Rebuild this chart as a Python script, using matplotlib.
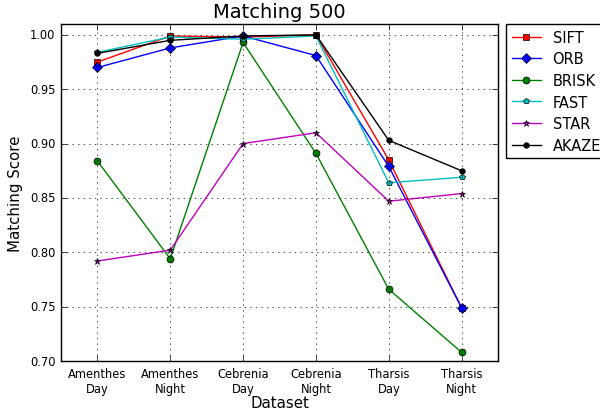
import matplotlib
matplotlib.use("Agg")
import matplotlib.pyplot as plt
from matplotlib.ticker import FormatStrFormatter

plt.style.use("classic")

datasets = ["Amenthes\nDay", "Amenthes\nNight", "Cebrenia\nDay", "Cebrenia\nNight", "Tharsis\nDay", "Tharsis\nNight"]

sift = [0.975, 0.999, 0.998, 1.000, 0.885, 0.749]
orb = [0.970, 0.988, 0.999, 0.981, 0.879, 0.749]
brisk = [0.884, 0.794, 0.993, 0.891, 0.766, 0.708]
fast = [0.984, 0.998, 0.996, 0.999, 0.864, 0.869]
star = [0.792, 0.802, 0.900, 0.910, 0.847, 0.854]
akaze = [0.983, 0.995, 0.999, 1.000, 0.903, 0.875]

fig = plt.figure(figsize=(6, 4.1), dpi=100)
ax = fig.add_axes([0.1017, 0.117, 0.7283, 0.822])

x = list(range(len(datasets)))
ax.plot(x, sift, "rs-", label="SIFT", markersize=5)
ax.plot(x, orb, "bD-", label="ORB", markersize=5)
ax.plot(x, brisk, "go-", label="BRISK", markersize=5)
ax.plot(x, fast, "cp-", label="FAST", markersize=4)
ax.plot(x, star, "m*-", label="STAR", markersize=4.5)
ax.plot(x, akaze, "ko-", label="AKAZE", markersize=4)

ax.set_xlim(-0.5, 5.5)
ax.set_ylim(0.70, 1.01)
ax.set_xticks(x)
ax.set_xticklabels(datasets, fontsize=8.3)
ax.yaxis.set_major_formatter(FormatStrFormatter("%.2f"))
ax.tick_params(axis="y", labelsize=8.3)
ax.grid(True)

ax.set_title("Matching 500", fontsize=14)
ax.set_xlabel("Dataset", fontsize=10.8, labelpad=0)
ax.set_ylabel("Matching Score", fontsize=10.8)
ax.legend(loc="upper left", bbox_to_anchor=(1.018, 1.0), fontsize=10.5,
          numpoints=1, borderaxespad=0, labelspacing=0.45)

fig.savefig("out.png", dpi=100)
